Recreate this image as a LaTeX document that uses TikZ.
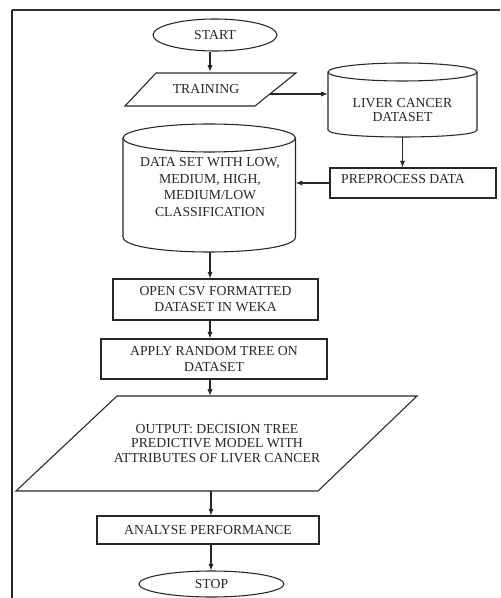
\documentclass[tikz,border=0pt]{standalone}
\usepackage{fontspec}
\setmainfont{Liberation Serif}
\usetikzlibrary{arrows.meta,shapes.geometric,calc}
\begin{document}
\begin{tikzpicture}[x=0.75pt,y=-0.75pt,
  txt/.style={font=\fontsize{10.3}{11.5}\selectfont, text=black!85, align=center, inner sep=0pt},
  outl/.style={draw=black!85, line width=0.8pt},
  boxn/.style={outl, rectangle, inner sep=0pt},
  termn/.style={outl, ellipse, inner sep=0pt, txt},
  conn/.style={draw=black!85, line width=0.8pt, -{Latex[length=5pt,width=4pt]}},
]
\useasboundingbox (0,0) rectangle (500,598);
% frame
\draw[line width=1.5pt, black!85] (12,598) -- (12,10);
\draw[line width=1pt, black!80] (11.5,10) -- (500,10);

\coordinate (axis) at (210,300);

% START
\node[termn, minimum width=93pt, minimum height=24pt] (start) at (215,35) {START};

% TRAINING (parallelogram)
\draw[outl] (156,73) -- (296,73) -- (255,106) -- (125,106) -- cycle;
\node[txt, minimum height=24.75pt] (train) at (206,89.5) {TRAINING};
\coordinate (trainR) at (270,94);

% LIVER CANCER DATASET (cylinder)
\node[inner sep=0pt, minimum width=111.75pt, minimum height=55.5pt] (liver) at (402.5,100) {};
\draw[outl] (328,72) -- (328,130) .. controls (328,139.33) and (477,139.33) .. (477,130) -- (477,72);
\draw[outl] (402.5,72) ellipse [x radius=74.5, y radius=9];
\node[txt, font=\fontsize{10.3}{10.5}\selectfont] (livertext) at (402.5,110) {LIVER CANCER\\DATASET};

% PREPROCESS DATA
\node[boxn, minimum width=124.5pt, minimum height=22.5pt] (pre) at (413,183) {};
\node[txt] (pretext) at (403,179.5) {PREPROCESS DATA};

% DATA SET cylinder
\node[inner sep=0pt, minimum width=129.4pt, minimum height=96pt] (ds) at (209.25,188) {};
\draw[outl] (123,138) -- (123,237) .. controls (123,257) and (295.5,257) .. (295.5,237) -- (295.5,138);
\draw[outl] (209.25,138) ellipse [x radius=86.25, y radius=14];
\node[txt, font=\fontsize{10.3}{12.5}\selectfont] (dstext) at (210,187) {DATA SET WITH LOW,\\MEDIUM, HIGH,\\MEDIUM/LOW\\CLASSIFICATION};

% OPEN CSV
\node[boxn, txt, draw=black!85, minimum width=153.75pt, minimum height=30.75pt, font=\fontsize{10.3}{12}\selectfont] (csv) at (215.5,299.5) {OPEN CSV FORMATTED\\DATASET IN WEKA};

% APPLY RANDOM TREE
\node[boxn, txt, draw=black!85, minimum width=169.5pt, minimum height=30pt] (apply) at (214,359) {APPLY RANDOM TREE ON\\DATASET};

% OUTPUT parallelogram
\draw[outl] (117,396) -- (417,396) -- (318,491) -- (16,491) -- cycle;
\node[txt, minimum height=71.25pt, font=\fontsize{10.3}{10.8}\selectfont] (out) at (217,443.5) {OUTPUT: DECISION TREE\\PREDICTIVE MODEL WITH\\ATTRIBUTES OF LIVER CANCER};

% ANALYSE PERFORMANCE
\node[boxn, txt, draw=black!85, minimum width=166.5pt, minimum height=21pt] (ana) at (208,530) {ANALYSE PERFORMANCE};

% STOP
\node[termn, minimum width=108.75pt, minimum height=19.5pt] (stop) at (211.5,584) {STOP};

% connectors
\draw[conn] (start.south -| axis) -- ($(train.north -| axis)+(0,-1)$);
\draw[conn] (trainR) -- (trainR -| liver.west);
\draw[conn] (liver.south) -- (liver.south |- pre.north);
\draw[conn] (pre.west) -- (pre.west -| ds.east);
\draw[conn] (ds.south -| axis) -- (csv.north -| axis);
\draw[conn] (csv.south -| axis) -- (apply.north -| axis);
\draw[conn] (apply.south -| axis) -- (out.north -| axis);
\draw[conn] ($(out.south -| axis)+(1,0)$) -- ($(ana.north -| axis)+(1,0)$);
\draw[conn] ($(ana.south -| axis)+(1,0)$) -- ($(stop.north -| axis)+(1,0)$);
\end{tikzpicture}
\end{document}
